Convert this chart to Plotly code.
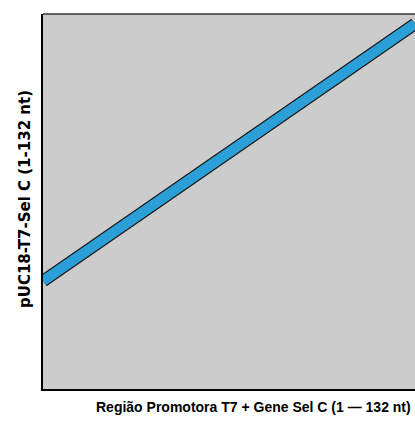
import plotly.graph_objects as go

# Dot-plot diagonal: position in query vs position in subject (nt)
query_pos = [1, 132]
subject_pos = [1, 132]

x_title = "Região Promotora T7 + Gene Sel C (1 — 132 nt)"
y_title = "pUC18-T7-Sel C (1-132 nt)"

fig = go.Figure()
# dark outline under the blue stroke
fig.add_trace(go.Scatter(x=query_pos, y=subject_pos, mode="lines",
                         line=dict(color="#1a1a1a", width=12.5), hoverinfo="skip"))
fig.add_trace(go.Scatter(x=query_pos, y=subject_pos, mode="lines",
                         line=dict(color="#2b9fd8", width=10), hoverinfo="skip"))

fig.update_layout(
    width=415, height=424,
    margin=dict(l=43, r=0, t=14, b=35),
    paper_bgcolor="white",
    plot_bgcolor="#cccccc",
    showlegend=False,
    xaxis=dict(range=[1, 132], showgrid=False, zeroline=False, showticklabels=False,
               ticks="", showline=True, linecolor="black", linewidth=2),
    yaxis=dict(range=[-54, 137], showgrid=False, zeroline=False, showticklabels=False,
               ticks="", showline=True, linecolor="black", linewidth=2),
    shapes=[dict(type="line", xref="paper", yref="paper", x0=0, x1=1, y0=1, y1=1,
                 line=dict(color="#333333", width=1.5))],
    annotations=[
        dict(text="<b>" + x_title + "</b>", xref="paper", yref="paper",
             x=0.567, y=-0.048, xanchor="center", yanchor="middle", showarrow=False,
             font=dict(family="Liberation Sans", size=14, color="black")),
        dict(text="<b>" + y_title + "</b>", xref="paper", yref="paper",
             x=-0.048, y=0.507, xanchor="center", yanchor="middle", showarrow=False,
             textangle=-90,
             font=dict(family="DejaVu Sans", size=15, color="black")),
    ],
)

fig.write_html("out.html")
